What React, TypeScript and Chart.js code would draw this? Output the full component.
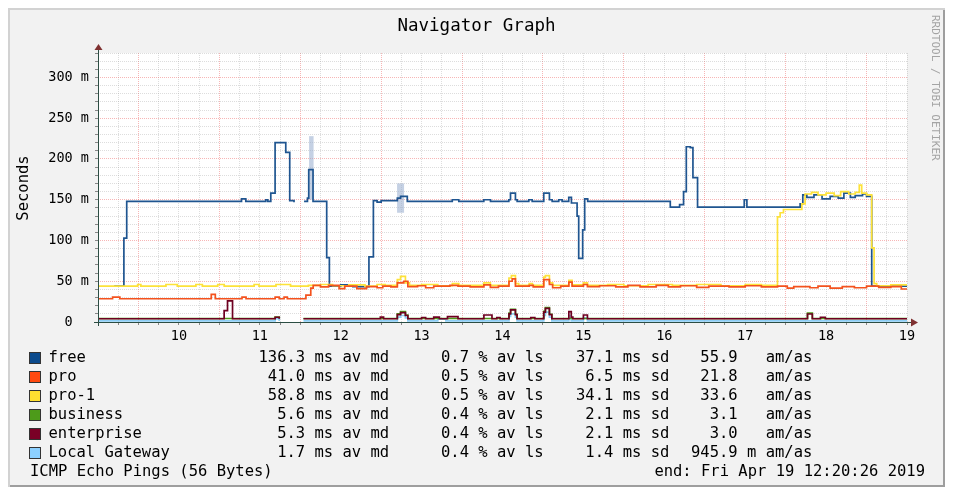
import React, { useEffect, useRef } from 'react';
import { Chart, registerables } from 'chart.js';

Chart.register(...registerables);

// ---------- data (time in hours, latency in milliseconds) ----------
const freeTimes = [9.2, 9.32, 9.355, 10.774, 10.827, 11.074, 11.099, 11.136, 11.189, 11.321, 11.37, 11.423, 11.485, 11.547, 11.589, 11.605, 11.658, 11.827, 11.86, 12.0, 12.15, 12.349, 12.404, 12.45, 12.5, 12.7, 12.74, 12.823, 13.379, 13.46, 13.769, 13.852, 14.078, 14.099, 14.16, 14.181, 14.325, 14.367, 14.51, 14.58, 14.614, 14.695, 14.737, 14.819, 14.852, 14.922, 14.942, 14.991, 15.016, 15.053, 16.074, 16.189, 16.238, 16.272, 16.321, 16.354, 16.411, 16.988, 17.021, 17.679, 17.712, 17.762, 17.85, 17.95, 18.05, 18.15, 18.22, 18.3, 18.36, 18.45, 18.5, 18.564, 19.0];
const freeValues = [44, 103, 148, 151, 148, 150, 148, 158, 220, 208, 149, 147, null, 148, 152, 187, 148, 79, 44, 45.5, 43.5, 80, 149, 147, 149, 152, 154, 148, 150, 148, 150, 148, 150, 158, 150, 148, 150, 148, 158, 150, 148, 150, 148, 153, 146, 130, 78, 113, 151, 148, 141, 144, 160, 215, 214, 177, 141, 150, 141, 145, 156, 153, 156, 151, 154, 152, 158, 153, 155, 157, 154, 44, 44];

const proTimes = [9.0, 9.18, 9.27, 10.4, 10.45, 10.78, 10.83, 11.19, 11.24, 11.3, 11.34, 11.57, 11.63, 11.66, 11.75, 11.85, 11.98, 12.05, 12.2, 12.32, 12.45, 12.52, 12.62, 12.7, 12.78, 12.83, 12.95, 13.05, 13.15, 13.35, 13.45, 13.6, 13.77, 13.85, 13.95, 14.08, 14.12, 14.16, 14.33, 14.38, 14.51, 14.58, 14.62, 14.72, 14.82, 14.86, 15.0, 15.05, 15.2, 15.4, 15.55, 15.7, 15.9, 16.05, 16.2, 16.4, 16.55, 16.8, 17.0, 17.2, 17.4, 17.52, 17.6, 17.8, 17.9, 18.05, 18.2, 18.35, 18.5, 18.65, 18.8, 18.93, 19.0];
const proValues = [28.5, 30.5, 28.5, 34, 28.5, 30.5, 28.5, 30.5, 28.5, 30.5, 28.5, 33, 41.5, 45, 43, 45, 41, 44, 41, 43.5, 42, 44, 43, 48, 50, 43.5, 44.5, 42, 44, 45, 44, 43, 45.5, 42.5, 44, 50, 53, 44, 45, 43, 52, 46, 42, 44, 49, 44, 46, 43.5, 44.5, 43, 45, 43, 45, 43, 44.5, 42.5, 44, 43, 44.5, 43, 44, 41.5, 43.5, 42, 44, 41.5, 43.5, 42, 44, 42.5, 43.5, 40.5, 40.5];

const pro1Times = [9.0, 9.49, 9.53, 9.84, 9.98, 10.21, 10.29, 10.48, 10.56, 10.93, 10.99, 11.2, 11.38, 11.6, 11.75, 11.9, 12.1, 12.3, 12.45, 12.55, 12.7, 12.74, 12.8, 12.85, 13.0, 13.2, 13.38, 13.46, 13.77, 13.85, 14.08, 14.11, 14.16, 14.2, 14.33, 14.37, 14.51, 14.53, 14.58, 14.62, 14.82, 14.86, 15.0, 15.05, 15.3, 15.5, 15.8, 16.1, 16.4, 16.7, 17.0, 17.2, 17.399, 17.432, 17.473, 17.7, 17.74, 17.82, 17.9, 18.0, 18.1, 18.18, 18.28, 18.36, 18.41, 18.44, 18.5, 18.564, 18.593, 18.626, 18.8, 19.0];
const pro1Values = [44, 46, 44, 46, 44, 46, 44, 46, 44, 46, 44, 46, 44, 45, 46, 44.5, 45.5, 44, 46, 45, 52, 56, 48, 45, 46, 44.5, 47, 45, 48, 45, 54, 57, 47, 45, 47, 45, 55, 57, 48, 45, 51, 45.5, 48, 45, 46, 44.5, 46, 45, 46, 44.5, 46, 45, 129, 134, 138, 145, 157, 159, 156, 158, 155, 160, 157, 159, 168, 158, 156, 91, 47, 44.5, 45.5, 45.5];

const businessTimes = [9.0, 11.19, 11.24, 11.485, 11.54, 12.7, 12.74, 12.8, 12.83, 14.08, 14.1, 14.16, 14.18, 14.51, 14.53, 14.58, 14.61, 17.77, 17.83, 19.0];
const businessValues = [4.3, 6, 4.3, null, 4.3, 10, 12.8, 8.5, 4.3, 11, 15.5, 9.5, 4.3, 13, 17.8, 9.5, 4.3, 10.8, 4.3, 4.3];

const enterpriseTimes = [9.0, 10.559, 10.601, 10.663, 11.19, 11.24, 11.485, 11.54, 12.49, 12.53, 12.7, 12.74, 12.8, 12.83, 13.0, 13.05, 13.15, 13.22, 13.32, 13.45, 13.77, 13.87, 13.93, 13.97, 14.08, 14.1, 14.16, 14.18, 14.35, 14.4, 14.51, 14.53, 14.58, 14.61, 14.82, 14.85, 14.87, 15.0, 15.05, 17.77, 17.83, 17.93, 17.99, 19.0];
const enterpriseValues = [4, 14, 26, 4, 5.8, 4, null, 4, 6, 4, 9, 11.5, 8, 4, 5.5, 4, 6, 4, 6.5, 4, 8.6, 4, 5.5, 4, 10, 14.8, 9, 4, 5.5, 4, 12, 16.8, 9, 4, 12.7, 6, 4, 8.6, 4, 9.8, 4, 5.8, 4, 4];

const gatewayTimes = [9.0, 11.19, 11.24, 11.485, 11.54, 12.7, 12.74, 12.8, 12.83, 13.2, 13.3, 14.08, 14.1, 14.16, 14.18, 14.51, 14.53, 14.58, 14.61, 14.82, 14.85, 15.0, 15.05, 19.0];
const gatewayValues = [1.3, 4, 1.3, null, 1.3, 6, 8, 5, 1.3, 3.5, 1.3, 7, 10, 6, 1.3, 8, 12, 6, 1.3, 8, 1.3, 5, 1.3, 1.3];

// smoke (spread of pings) for "free"
const smokeTimes = [11.637, 12.74];
const smokeLow = [150, 134];
const smokeHigh = [228, 170];

// legend
const legendNames = ['free', 'pro', 'pro-1', 'business', 'enterprise', 'Local Gateway'];
const medianValues = [136.3, 41.0, 58.8, 5.6, 5.3, 1.7];
const lossValues = [0.7, 0.5, 0.5, 0.4, 0.4, 0.4];
const sdValues = [37.1, 6.5, 34.1, 2.1, 2.1, 1.4];
const amasValues = [55.9, 21.8, 33.6, 3.1, 3.0, 0.9459];

const xTickLabels = [10, 11, 12, 13, 14, 15, 16, 17, 18, 19];
const yTickLabels = [0, 50, 100, 150, 200, 250, 300];

// ---------- styles ----------
const W = 937;
const H = 479;
const PLOT = { left: 90, top: 45, right: 899, bottom: 314 };
const MONO = "'DejaVu Sans Mono', 'Liberation Mono', monospace";
const COLORS = ['#1f5590', '#f4521e', '#fde23a', '#4d9b1a', '#6e0020', '#8ccdf5'];
const SWATCH = ['#0b4a8c', '#ff4a10', '#ffe030', '#4d9b1a', '#7a0026', '#8cd0ff'];
const ORDERS = [1.5, 0.5, 1, 3, 2, 4];
const SMOKE_WIDTHS = [4.5, 7];
const MINOR = 'rgba(150,150,150,0.32)';
const MAJOR = 'rgba(240,110,110,0.5)';
const AXIS = '#2C4D43';
const ARROW = '#7F3131';

const toPoints = (times: number[], values: (number | null)[]) =>
  times.map((t, i) => ({ x: t, y: values[i] }));

const framePlugin = {
  id: 'rrdframe',
  beforeDraw(chart: any) {
    const { ctx, chartArea: a } = chart;
    ctx.save();
    ctx.fillStyle = '#ffffff';
    ctx.fillRect(a.left, a.top, a.right - a.left, a.bottom - a.top);
    ctx.restore();
  },
  afterDatasetsDraw(chart: any) {
    const { ctx, chartArea: a } = chart;
    const x0 = Math.round(a.left) + 0.5;
    const y0 = Math.round(a.bottom) + 0.5;
    ctx.save();
    ctx.strokeStyle = AXIS;
    ctx.lineWidth = 1;
    ctx.beginPath();
    ctx.moveTo(a.left - 4, y0);
    ctx.lineTo(a.right + 6, y0);
    ctx.moveTo(x0, a.bottom + 4);
    ctx.lineTo(x0, a.top - 4);
    ctx.stroke();
    ctx.fillStyle = ARROW;
    ctx.beginPath();
    ctx.moveTo(x0, a.top - 9);
    ctx.lineTo(x0 - 4, a.top - 3);
    ctx.lineTo(x0 + 4, a.top - 3);
    ctx.closePath();
    ctx.fill();
    ctx.beginPath();
    ctx.moveTo(a.right + 11, y0);
    ctx.lineTo(a.right + 4, y0 - 4);
    ctx.lineTo(a.right + 4, y0 + 4);
    ctx.closePath();
    ctx.fill();
    ctx.restore();
  },
};

const fmtLegend = (i: number) => {
  const md = medianValues[i].toFixed(1).padStart(5) + ' ms av md';
  const ls = lossValues[i].toFixed(1) + ' % av ls';
  const sd = sdValues[i].toFixed(1).padStart(4) + ' ms sd';
  const v = amasValues[i];
  const am = v < 1 ? (v * 1000).toFixed(1).padStart(5) + ' m am/as' : v.toFixed(1).padStart(5) + '   am/as';
  return { md, ls, sd, am };
};

export default function App() {
  const ref = useRef<HTMLCanvasElement>(null);

  useEffect(() => {
    if (!ref.current) return;
    const series = [
      toPoints(freeTimes, freeValues),
      toPoints(proTimes, proValues),
      toPoints(pro1Times, pro1Values),
      toPoints(businessTimes, businessValues),
      toPoints(enterpriseTimes, enterpriseValues),
      toPoints(gatewayTimes, gatewayValues),
    ];
    const datasets: any[] = series.map((data, i) => ({
      label: legendNames[i],
      data,
      borderColor: COLORS[i],
      backgroundColor: COLORS[i],
      borderWidth: 1.7,
      stepped: 'before',
      pointRadius: 0,
      fill: false,
      spanGaps: false,
      order: ORDERS[i],
    }));
    smokeTimes.forEach((t, i) => {
      datasets.push({
        label: 'smoke' + i,
        data: [{ x: t, y: smokeLow[i] }, { x: t, y: smokeHigh[i] }],
        borderColor: 'rgba(150,172,205,0.55)',
        borderWidth: SMOKE_WIDTHS[i],
        borderCapStyle: 'butt',
        pointRadius: 0,
        fill: false,
        order: 10,
      });
    });

    const chart = new Chart(ref.current, {
      type: 'line',
      data: { datasets },
      plugins: [framePlugin],
      options: {
        responsive: false,
        animation: false,
        layout: { padding: { left: 0, top: PLOT.top, right: W - PLOT.right, bottom: 0 } },
        plugins: { legend: { display: false }, tooltip: { enabled: false }, title: { display: false } },
        scales: {
          x: {
            type: 'linear',
            min: 9,
            max: 19,
            offset: false,
            afterFit: (s: any) => { s.height = H - PLOT.bottom; },
            ticks: {
              stepSize: 0.25,
              autoSkip: false,
              maxRotation: 0,
              minRotation: 0,
              padding: 3,
              color: '#000',
              font: { family: MONO, size: 13.5 },
              callback: (v: any) => (xTickLabels.includes(v) ? String(v) : ''),
            },
            grid: {
              color: (c: any) => (c.tick && Math.abs((c.tick.value % 1) - 0.5) < 1e-6 ? MAJOR : MINOR),
              lineWidth: 1,
              tickLength: 3,
              tickColor: '#888',
            },
            border: { display: false, dash: [1, 1] },
          },
          y: {
            type: 'linear',
            min: 0,
            max: 330,
            afterFit: (s: any) => { s.width = PLOT.left; },
            ticks: {
              stepSize: 10,
              autoSkip: false,
              padding: 6,
              color: '#000',
              font: { family: MONO, size: 13.5 },
              callback: (v: any) => (v === 0 ? '0  ' : yTickLabels.includes(v) ? v + ' m' : ''),
            },
            grid: {
              color: (c: any) => (c.tick && c.tick.value % 50 === 0 ? MAJOR : MINOR),
              lineWidth: 1,
              tickLength: 3,
              tickColor: '#888',
            },
            border: { display: false, dash: [1, 1] },
          },
        },
      } as any,
    });
    return () => chart.destroy();
  }, []);

  const rowTop = (i: number) => 349.5 + i * 19 - 9.5;
  const textStyle: React.CSSProperties = {
    position: 'absolute',
    fontFamily: MONO,
    fontSize: 15.5,
    lineHeight: '19px',
    whiteSpace: 'pre',
    color: '#000',
  };

  return (
    <div
      style={{
        position: 'relative',
        width: W,
        height: H,
        background: '#f2f2f2',
        boxShadow: 'inset 2px 2px 0 #d2d2d2, inset -2px -2px 0 #9e9e9e',
        overflow: 'hidden',
      }}
    >
      <canvas ref={ref} width={W} height={H} style={{ position: 'absolute', left: 0, top: 0, width: W, height: H }} />
      <div
        style={{
          position: 'absolute',
          left: 0,
          width: W,
          top: 6,
          textAlign: 'center',
          fontFamily: MONO,
          fontSize: 17.5,
          lineHeight: '22px',
          color: '#000',
        }}
      >
        Navigator Graph
      </div>
      <div
        style={{
          position: 'absolute',
          left: 14.7 - 60,
          top: 179.5 - 10,
          width: 120,
          height: 20,
          lineHeight: '20px',
          textAlign: 'center',
          transform: 'rotate(-90deg)',
          fontFamily: MONO,
          fontSize: 15.5,
          color: '#000',
        }}
      >
        Seconds
      </div>
      <div
        style={{
          position: 'absolute',
          left: 921,
          top: 7,
          width: 13,
          writingMode: 'vertical-rl',
          fontFamily: MONO,
          fontSize: 11,
          lineHeight: '13px',
          color: '#a4a4a4',
          whiteSpace: 'pre',
        }}
      >
        RRDTOOL / TOBI OETIKER
      </div>
      {legendNames.map((name, i) => {
        const f = fmtLegend(i);
        const top = rowTop(i);
        return (
          <React.Fragment key={name}>
            <div
              style={{
                position: 'absolute',
                left: 21,
                top: top + 4,
                width: 10,
                height: 10,
                background: SWATCH[i],
                border: '1px solid #333',
              }}
            />
            <div style={{ ...textStyle, left: 40.5, top }}>{name}</div>
            <div style={{ ...textStyle, left: 250.5, top }}>{f.md}</div>
            <div style={{ ...textStyle, left: 433, top }}>{f.ls}</div>
            <div style={{ ...textStyle, left: 568, top }}>{f.sd}</div>
            <div style={{ ...textStyle, left: 683, top }}>{f.am}</div>
          </React.Fragment>
        );
      })}
      <div style={{ ...textStyle, left: 22, top: 463.5 - 9.5 }}>ICMP Echo Pings (56 Bytes)</div>
      <div style={{ ...textStyle, right: 20, top: 463.5 - 9.5 }}>end: Fri Apr 19 12:20:26 2019</div>
    </div>
  );
}
